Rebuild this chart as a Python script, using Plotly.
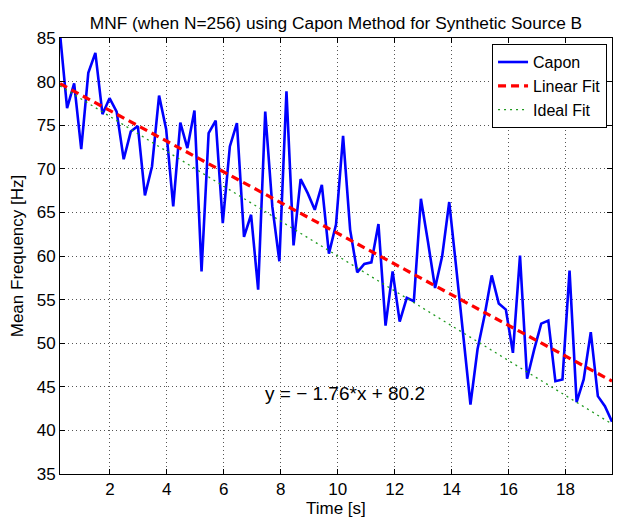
import plotly.graph_objects as go

# ---- data ----
t_start = 0.2485
t_step = 0.2485
capon_mnf = [
    85.5, 76.95, 79.8, 72.25, 81.0, 83.3, 76.26, 78.1, 76.56, 71.1,
    74.27, 74.9, 66.94, 70.27, 78.4, 74.54, 65.7, 75.3, 72.37, 76.68,
    58.24, 74.08, 75.53, 63.78, 72.56, 75.23, 62.2, 64.73, 56.14, 76.56,
    65.68, 59.39, 78.9, 61.22, 68.82, 67.21, 65.3, 68.17, 60.27, 63.6,
    73.78, 63.0, 58.13, 59.08, 59.27, 63.66, 52.02, 58.24, 52.48, 55.19,
    54.81, 66.56, 61.6, 56.33, 59.96, 66.19, 58.56, 50.93, 42.97, 49.3,
    53.2, 57.78, 54.54, 53.85, 48.9, 60.04, 45.92, 49.27, 52.25, 52.6,
    45.64, 45.84, 58.32, 43.24, 45.84, 51.26, 43.93, 42.78, 41.0,
]
time_s = [round(t_start + t_step * k, 4) for k in range(len(capon_mnf))]

linear_slope, linear_intercept = -1.76, 80.2
ideal_slope, ideal_intercept = -2.0, 80.0

x_ticks = [2, 4, 6, 8, 10, 12, 14, 16, 18]
y_ticks = [35, 40, 45, 50, 55, 60, 65, 70, 75, 80, 85]

fit_x = [time_s[0], time_s[-1]]
linear_fit = [linear_intercept + linear_slope * x for x in fit_x]
ideal_fit = [ideal_intercept + ideal_slope * x for x in fit_x]

FONT = "Liberation Sans, Arial, Helvetica, sans-serif"

# page body has an 8px margin, so the figure is sized to fit the window
W, H = 622, 509
ML, MR, MT, MB = 52, 18, 30, 43
PLOT_H = H - MT - MB

fig = go.Figure()
fig.add_trace(go.Scatter(x=time_s, y=capon_mnf, mode="lines", name="Capon",
                         line=dict(color="#0000ff", width=2.6)))
fig.add_trace(go.Scatter(x=fit_x, y=linear_fit, mode="lines", name="Linear Fit",
                         line=dict(color="#ff0000", width=3.2, dash="8px,5px")))
fig.add_trace(go.Scatter(x=fit_x, y=ideal_fit, mode="lines", name="Ideal Fit",
                         line=dict(color="#1f9a1f", width=1.3, dash="2px,4px")))

fig.add_annotation(x=7.38, y=44.2, xref="x", yref="y",
                   text="y = \u2212 1.76*x + 80.2", showarrow=False,
                   xanchor="left", yanchor="middle",
                   font=dict(family=FONT, size=19, color="black"))

# x-axis title placed below the tick labels
fig.add_annotation(x=0.5, y=-(500 - (H - MB)) / PLOT_H, xref="paper", yref="paper",
                   text="Time [s]", showarrow=False,
                   xanchor="center", yanchor="middle",
                   font=dict(family=FONT, size=17, color="black"))

axis_common = dict(
    showline=True, linecolor="black", linewidth=1, mirror="ticks",
    ticks="inside", ticklen=5, tickcolor="black",
    showgrid=True, gridcolor="#555555", gridwidth=1, griddash="1px,3px",
    zeroline=False, automargin=False,
    tickfont=dict(family=FONT, size=17, color="black"),
)

fig.update_layout(
    width=W, height=H,
    margin=dict(l=ML, r=MR, t=MT, b=MB),
    paper_bgcolor="white", plot_bgcolor="white",
    font=dict(family=FONT, size=17, color="black"),
    title=dict(text="MNF (when N=256) using Capon Method for Synthetic Source B",
               x=0.5, xref="paper", xanchor="center",
               y=1 - 15 / H, yref="container", yanchor="middle",
               font=dict(family=FONT, size=17.3, color="black")),
    xaxis=dict(range=[time_s[0], time_s[-1]], tickvals=x_ticks,
               **axis_common),
    yaxis=dict(range=[35, 85], tickvals=y_ticks,
               title=dict(text="Mean Frequency [Hz]",
                          font=dict(family=FONT, size=17)),
               **axis_common),
    legend=dict(x=0.991, y=0.986, xanchor="right", yanchor="top",
                bordercolor="black", borderwidth=1, bgcolor="white",
                font=dict(family=FONT, size=16, color="black"),
                tracegroupgap=0),
    showlegend=True,
)

fig.write_html("out.html")
